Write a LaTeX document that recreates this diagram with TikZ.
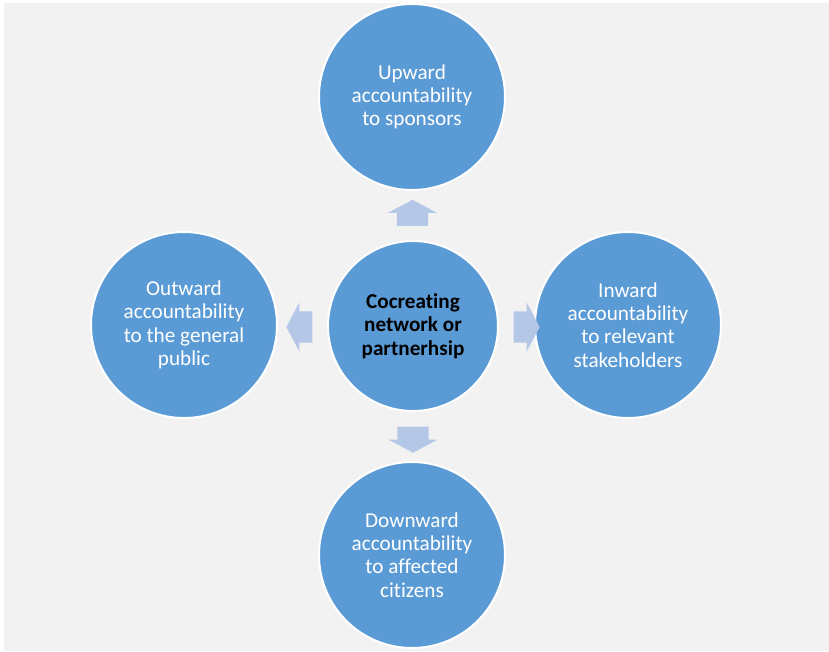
\documentclass[tikz,border=0pt]{standalone}
\usepackage{fontspec}
\setmainfont{Carlito}[Ligatures=NoCommon]
\usetikzlibrary{shapes.arrows}
\definecolor{AccBlue}{RGB}{91,155,213}
\definecolor{AccPale}{RGB}{180,199,231}
\definecolor{AccBack}{RGB}{242,242,242}
\tikzset{
  acc/circle/.style={
    circle,
    draw=white,
    line width=1.5pt,
    fill=AccBlue,
    minimum size=139.5pt,
    inner sep=0pt,
    align=center,
    text=white,
    font=\fontsize{15.9}{17.5}\selectfont
  },
  acc/hub/.style={
    acc/circle,
    minimum size=127.5pt,
    text=black,
    font=\fontsize{15.9}{17.5}\selectfont\bfseries
  },
  acc/arrow/.style={
    single arrow,
    fill=AccPale,
    draw=none,
    inner xsep=0pt,
    inner ysep=11.6pt,
    minimum height=19.5pt,
    single arrow head extend=6.75pt,
    single arrow tip angle=124
  }
}

\begin{document}
\begin{tikzpicture}[x=0.75pt,y=-0.75pt]
  \useasboundingbox (0,0) rectangle (829,651);
  \fill[AccBack] (4,3) rectangle (829,651);
  \node[acc/hub] (hub) at (413,326) {Cocreating\\network or\\partnerhsip};
  \node[acc/circle] (upward) at (412,97) {Upward\\accountability\\to sponsors};
  \node[acc/circle] (outward) at (184,325) {Outward\\accountability\\to the general\\public};
  \node[acc/circle] (inward) at (628,325) {Inward\\accountability\\to relevant\\stakeholders};
  \node[acc/circle] (downward) at (412,555) {Downward\\accountability\\to affected\\citizens};
  \node[acc/arrow,rotate=90] (toup) at (412.5,217) {};
  \node[acc/arrow,rotate=180] (toout) at (303.5,327) {};
  \node[acc/arrow] (toin) at (522.5,327) {};
  \node[acc/arrow,rotate=270] (todown) at (413,435.5) {};
\end{tikzpicture}
\end{document}
